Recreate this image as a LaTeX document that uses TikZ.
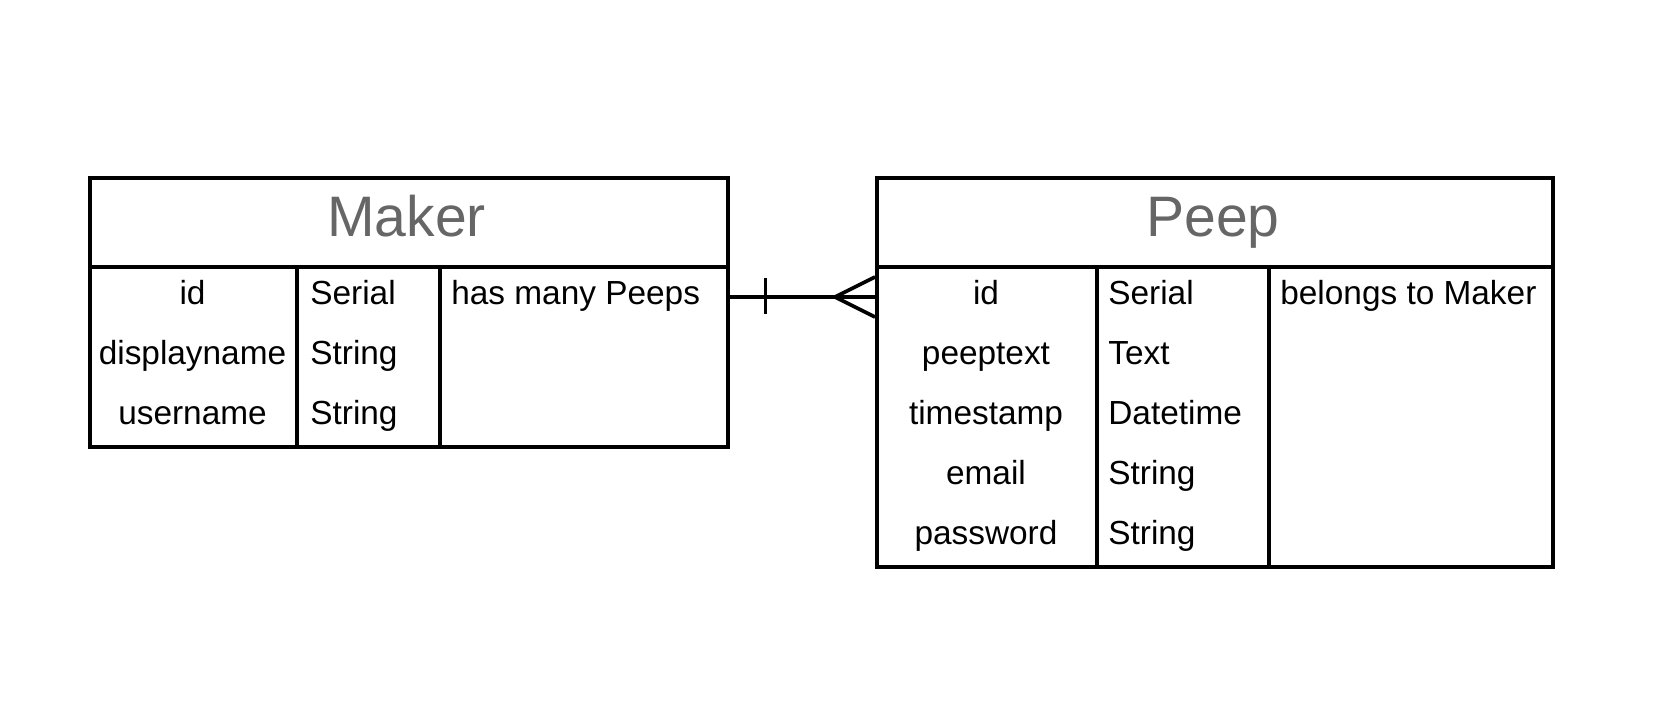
\documentclass[tikz,border=0pt]{standalone}
\usepackage{fontspec}
\setmainfont{Liberation Sans}
\definecolor{titlegray}{HTML}{666666}
\begin{document}
\begin{tikzpicture}[
    x=0.02cm, y=-0.02cm,
    cell/.style={draw, line width=2.1pt, inner sep=0pt, anchor=north west},
    title/.style={font=\fontsize{32.5}{37}\selectfont, text=titlegray, anchor=base, inner sep=0pt},
    field/.style={font=\fontsize{19}{23}\selectfont, anchor=base, inner sep=0pt},
    ftype/.style={field, anchor=base west},
    relline/.style={line width=2.1pt}
  ]
  \useasboundingbox (0,0) rectangle (1658,713);

  % Maker table
  \node[cell, minimum width=12.76cm, minimum height=1.78cm] (makerhead) at (88,176) {};
  \node[cell, minimum width=12.76cm, minimum height=3.6cm] (makerbody) at (88,265) {};
  \node[title] (makertitle) at (406.5,236) {Maker};
  \draw[relline] (297,265) -- (297,445);
  \draw[relline] (440,265) -- (440,445);

  \node[field] (mkid) at (192.5,304) {id};
  \node[field] (mkdisplay) at (192.5,364) {displayname};
  \node[field] (mkuser) at (192.5,424) {username};
  \node[ftype] (mkidtype) at (310,304) {Serial};
  \node[ftype] (mkdisplaytype) at (310,364) {String};
  \node[ftype] (mkusertype) at (310,424) {String};
  \node[ftype] (mkrel) at (451,304) {has many Peeps};

  % Peep table
  \node[cell, minimum width=13.52cm, minimum height=1.78cm] (peephead) at (875,176) {};
  \node[cell, minimum width=13.52cm, minimum height=6cm] (peepbody) at (875,265) {};
  \node[title] (peeptitle) at (1213,236) {Peep};
  \draw[relline] (1097,265) -- (1097,565);
  \draw[relline] (1269,265) -- (1269,565);

  \node[field] (ppid) at (986,304) {id};
  \node[field] (pptext) at (986,364) {peeptext};
  \node[field] (pptime) at (986,424) {timestamp};
  \node[field] (ppmail) at (986,484) {email};
  \node[field] (pppass) at (986,544) {password};
  \node[ftype] (ppidtype) at (1108,304) {Serial};
  \node[ftype] (pptexttype) at (1108,364) {Text};
  \node[ftype] (pptimetype) at (1108,424) {Datetime};
  \node[ftype] (ppmailtype) at (1108,484) {String};
  \node[ftype] (pppasstype) at (1108,544) {String};
  \node[ftype] (pprel) at (1280,304) {belongs to Maker};

  % one-to-many relation
  \draw[relline] ([yshift=-0.64cm]makerbody.north east) -- ([yshift=-0.64cm]peepbody.north west);
  \draw[relline] ([xshift=0.72cm,yshift=-0.26cm]makerbody.north east) -- ++(0,36);
  \draw[relline] ([yshift=-0.24cm]peepbody.north west) -- ([xshift=-0.8cm,yshift=-0.64cm]peepbody.north west)
    -- ([yshift=-1.04cm]peepbody.north west);

\end{tikzpicture}
\end{document}
